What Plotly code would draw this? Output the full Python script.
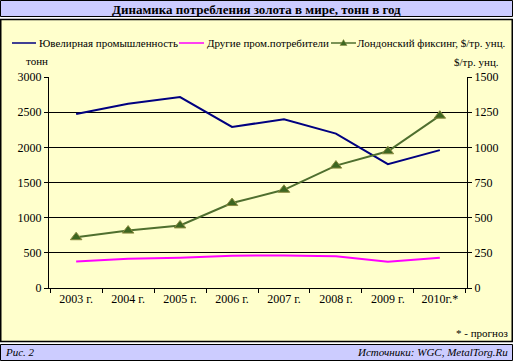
import plotly.graph_objects as go

years = ["2003 г.", "2004 г.", "2005 г.", "2006 г.", "2007 г.", "2008 г.", "2009 г.", "2010г.*"]
jewelry = [2475, 2620, 2715, 2290, 2400, 2195, 1760, 1960]
other_ind = [378, 416, 430, 460, 462, 450, 374, 431]
london_fix = [361, 408, 445, 604, 698, 870, 972, 1225]
series_names = ["Ювелирная промышленность", "Другие пром.потребители", "Лондонский фиксинг, $/тр. унц."]
series_colors = ["#000080", "#FF00FF", "#4F6F2F"]

left_ticks = [0, 500, 1000, 1500, 2000, 2500, 3000]
right_ticks = [0, 250, 500, 750, 1000, 1250, 1500]

W, H = 513, 362
L, R, T, B = 49, 467, 77, 288
FONT = "Liberation Serif"


def X(p):
    return (p - L) / (R - L)


def Y(p):
    return (B - p) / (B - T)


fig = go.Figure()
fig.add_trace(go.Scatter(x=years, y=jewelry, name=series_names[0],
                         mode="lines", line=dict(color=series_colors[0], width=2)))
fig.add_trace(go.Scatter(x=years, y=other_ind, name=series_names[1],
                         mode="lines", line=dict(color=series_colors[1], width=2)))
fig.add_trace(go.Scatter(x=years, y=london_fix, name=series_names[2],
                         mode="lines+markers", yaxis="y2",
                         line=dict(color=series_colors[2], width=2),
                         marker=dict(symbol="triangle-up", size=10, color="#3D6620",
                                     line=dict(color="#8A8A40", width=1))))

shapes = [
    dict(type="rect", xref="paper", yref="paper", layer="below",
         x0=X(0.5), x1=X(512.5), y0=Y(0.5), y1=Y(16.5),
         fillcolor="#CCCCFF", line=dict(color="black", width=1)),
    dict(type="rect", xref="paper", yref="paper", layer="below",
         x0=X(0.75), x1=X(512.25), y0=Y(19.5), y1=Y(341.5),
         fillcolor="#FFFFCC", line=dict(color="black", width=1.5)),
    dict(type="rect", xref="paper", yref="paper", layer="below",
         x0=X(0.5), x1=X(512.5), y0=Y(344.5), y1=Y(360.5),
         fillcolor="#CCCCFF", line=dict(color="black", width=1)),
]

# manual legend (line samples + labels)
legend_lines = [(12, 36), (179, 204), (331, 356)]
legend_text_x = [40, 208, 358]
LEG_Y = 43
for (a, b), c in zip(legend_lines, series_colors):
    shapes.append(dict(type="line", xref="paper", yref="paper", x0=X(a), x1=X(b),
                       y0=Y(LEG_Y), y1=Y(LEG_Y), line=dict(color=c, width=1.5)))
tx = 343.5
shapes.append(dict(type="path", xref="paper", yref="paper",
                   path="M %f,%f L %f,%f L %f,%f Z" % (X(tx - 3.5), Y(LEG_Y + 2.5), X(tx + 3.5), Y(LEG_Y + 2.5),
                                                      X(tx), Y(LEG_Y - 3.5)),
                   fillcolor="#3D6620", line=dict(color="#8A8A40", width=0.5)))

annotations = [
    dict(text="<b>Динамика потребления золота в мире, тонн в год</b>", xref="paper", yref="paper",
         x=X(256), y=Y(9), xanchor="center", yanchor="middle", showarrow=False,
         font=dict(family=FONT, size=13, color="#000000")),
    dict(text="тонн", xref="paper", yref="paper", x=X(24), y=Y(61),
         xanchor="left", yanchor="middle", showarrow=False,
         font=dict(family=FONT, size=11, color="#000000")),
    dict(text="$/тр. унц.", xref="paper", yref="paper", x=X(501), y=Y(62),
         xanchor="right", yanchor="middle", showarrow=False,
         font=dict(family=FONT, size=11, color="#000000")),
    dict(text="* - прогноз", xref="paper", yref="paper", x=X(510), y=Y(333),
         xanchor="right", yanchor="middle", showarrow=False,
         font=dict(family=FONT, size=11, color="#000000")),
    dict(text="<i>Рис. 2</i>", xref="paper", yref="paper", x=X(3), y=Y(352),
         xanchor="left", yanchor="middle", showarrow=False,
         font=dict(family=FONT, size=11, color="#000000")),
    dict(text="<i>Источники: WGC, MetalTorg.Ru</i>", xref="paper", yref="paper", x=X(510), y=Y(352),
         xanchor="right", yanchor="middle", showarrow=False,
         font=dict(family=FONT, size=11, color="#000000")),
]
for name, x0 in zip(series_names, legend_text_x):
    annotations.append(dict(text=name, xref="paper", yref="paper", x=X(x0 - 3), y=Y(LEG_Y),
                            xanchor="left", yanchor="middle", showarrow=False,
                            font=dict(family=FONT, size=11, color="#000000")))

fig.update_layout(
    width=W, height=H,
    margin=dict(l=L, r=W - R, t=T, b=H - B, pad=0),
    paper_bgcolor="white",
    plot_bgcolor="#C0C0C0",
    font=dict(family=FONT, size=12, color="#000000"),
    showlegend=False,
    xaxis=dict(type="category", tickson="boundaries", ticks="outside", ticklen=4,
               tickcolor="black", showline=True, linecolor="black", linewidth=1,
               showgrid=False, tickfont=dict(family=FONT, size=12), fixedrange=True),
    yaxis=dict(range=[0, 3000], tickvals=left_ticks, ticks="outside", ticklen=4,
               tickcolor="black", showline=True, linecolor="black", linewidth=1,
               showgrid=True, gridcolor="black", gridwidth=1, zeroline=False,
               tickfont=dict(family=FONT, size=12)),
    yaxis2=dict(range=[0, 1500], tickvals=right_ticks, overlaying="y", side="right",
                ticks="outside", ticklen=4, tickcolor="black", showline=True,
                linecolor="black", linewidth=1, showgrid=False, zeroline=False,
                tickfont=dict(family=FONT, size=12)),
    shapes=shapes,
    annotations=annotations,
)

fig.write_html("out.html", config={"displayModeBar": False},
               post_script="document.body.style.margin='0';document.body.style.overflow='hidden';")
